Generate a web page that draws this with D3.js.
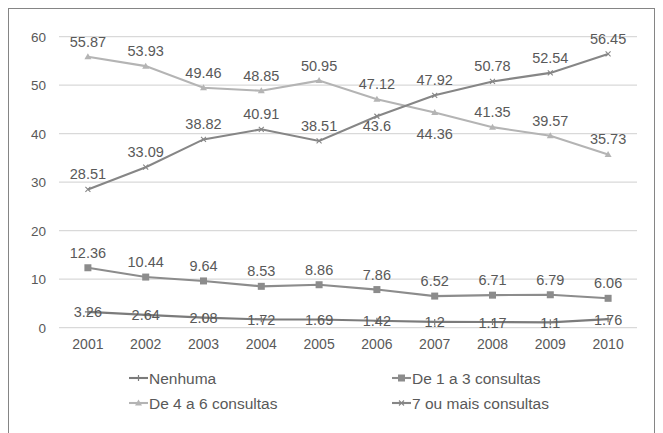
<!DOCTYPE html>
<html><head><meta charset="utf-8">
<script src="https://cdn.jsdelivr.net/npm/d3@7"></script>
<style>body{margin:0;background:#fff}svg{display:block}text{font-family:"Liberation Sans",Arial,sans-serif;fill:#595959}</style>
</head><body><svg id="c" width="663" height="433"></svg>
<script>
const years = ["2001","2002","2003","2004","2005","2006","2007","2008","2009","2010"];
const yTicks = [0,10,20,30,40,50,60];
const nenhuma = [3.26,2.64,2.08,1.72,1.69,1.42,1.2,1.17,1.1,1.76];
const de1a3 = [12.36,10.44,9.64,8.53,8.86,7.86,6.52,6.71,6.79,6.06];
const de4a6 = [55.87,53.93,49.46,48.85,50.95,47.12,44.36,41.35,39.57,35.73];
const mais7 = [28.51,33.09,38.82,40.91,38.51,43.6,47.92,50.78,52.54,56.45];
const seriesNames = ["Nenhuma","De 1 a 3 consultas","De 4 a 6 consultas","7 ou mais consultas"];

const svg = d3.select("#c");
svg.append("rect").attr("x",8.5).attr("y",8.5).attr("width",646).attr("height",440)
  .attr("fill","none").attr("stroke","#858585").attr("stroke-width",1);

const x = d3.scaleBand().domain(years).range([59,637]);
const y = d3.scaleLinear().domain([0,60]).range([327.7,36.7]);
const cx = d => x(d)+x.bandwidth()/2;

svg.append("g").selectAll("line").data(yTicks).join("line")
  .attr("x1",59).attr("x2",637).attr("y1",d=>y(d)).attr("y2",d=>y(d))
  .attr("stroke","#d9d9d9").attr("stroke-width",1.3);

const yAxis = svg.append("g").attr("transform","translate(46,0)")
  .call(d3.axisLeft(y).tickValues(yTicks).tickSize(0).tickPadding(0));
yAxis.select(".domain").remove();
yAxis.selectAll("text").attr("font-size",13.5).attr("fill","#595959").style("font-family","'Liberation Sans',Arial,sans-serif");

const xAxis = svg.append("g").attr("transform","translate(0,336)")
  .call(d3.axisBottom(x).tickSize(0).tickPadding(0));
xAxis.select(".domain").remove();
xAxis.selectAll("text").attr("font-size",14).attr("fill","#595959").attr("dy","0.95em").style("font-family","'Liberation Sans',Arial,sans-serif");

const series = [
  {name:seriesNames[0], vals:nenhuma, color:"#7b7b7b", marker:"plus", labelPos:years.map(()=>"center")},
  {name:seriesNames[1], vals:de1a3, color:"#8c8c8c", marker:"square", labelPos:years.map(()=>"above")},
  {name:seriesNames[2], vals:de4a6, color:"#b4b4b4", marker:"triangle", labelPos:years.map((d,i)=> i===6?"below2":"above")},
  {name:seriesNames[3], vals:mais7, color:"#868686", marker:"cross", labelPos:years.map((d,i)=> i===5?"below":"above")}
];

const line = d3.line().x((d,i)=>cx(years[i])).y(d=>y(d));

function drawMarker(g, type, px, py, color){
  if(type==="square"){
    g.append("rect").attr("x",px-3.5).attr("y",py-3.5).attr("width",7).attr("height",7).attr("fill",color);
  } else if(type==="triangle"){
    g.append("path").attr("d",`M${px},${py-3.5}L${px+3.5},${py+2.5}L${px-3.5},${py+2.5}Z`).attr("fill",color);
  } else if(type==="plus"){
    g.append("path").attr("d",`M${px-3},${py}H${px+3}M${px},${py-3}V${py+3}`).attr("stroke",color).attr("stroke-width",1.2);
  } else {
    g.append("path").attr("d",`M${px-2.5},${py-2.5}L${px+2.5},${py+2.5}M${px-2.5},${py+2.5}L${px+2.5},${py-2.5}`).attr("stroke",color).attr("stroke-width",1.1);
  }
}

const order = [2,3,1,0];
order.forEach(k=>{
  const s = series[k];
  const g = svg.append("g");
  g.append("path").datum(s.vals).attr("d",line).attr("fill","none").attr("stroke",s.color).attr("stroke-width",2.1);
  s.vals.forEach((v,i)=>drawMarker(g,s.marker,cx(years[i]),y(v),s.color));
});

series.forEach(s=>{
  svg.append("g").selectAll("text").data(s.vals).join("text")
    .attr("x",(d,i)=>cx(years[i]))
    .attr("y",(d,i)=>{
      const p=y(d), pos=s.labelPos[i];
      if(pos==="center") return p+5.5;
      if(pos==="below") return p+15;
      if(pos==="below2") return p+26;
      return p-10;
    })
    .attr("text-anchor","middle").attr("font-size",14.5).attr("fill","#595959")
    .text(d=>String(d));
});

const legendPos = [[129,378],[392,378],[129,403],[392,403]];
series.forEach((s,k)=>{
  const [lx,ly]=legendPos[k];
  const g=svg.append("g");
  g.append("line").attr("x1",lx).attr("x2",lx+19).attr("y1",ly).attr("y2",ly).attr("stroke",s.color).attr("stroke-width",2.1);
  drawMarker(g,s.marker,lx+9.5,ly,s.color);
  g.append("text").attr("x",lx+20).attr("y",ly+5.5).attr("font-size",15.5).attr("fill","#595959").text(s.name);
});
</script></body></html>
